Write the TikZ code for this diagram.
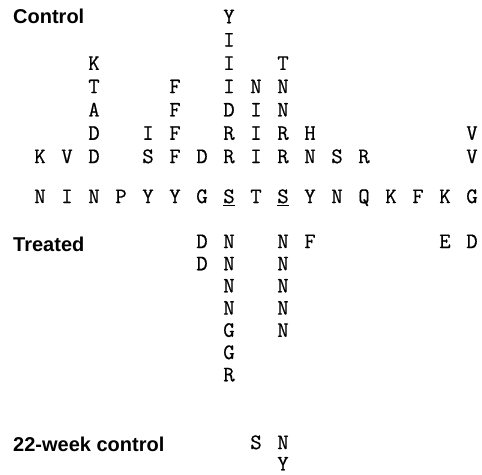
\documentclass[tikz,border=0pt]{standalone}
\usepackage{fontspec}
\setmainfont{Liberation Sans}
\newfontfamily\seqfont{Latin Modern Mono}[FakeBold=0.6]

\tikzset{
  residue/.style={font=\seqfont\fontsize{22}{22}\selectfont,inner sep=0pt,
    text height=0.61em,text depth=0pt},
  grouplabel/.style={font=\bfseries\fontsize{20}{20}\selectfont,inner sep=0pt,
    anchor=west},
}

\begin{document}
\begin{tikzpicture}

        \useasboundingbox (0,0) rectangle (482pt,-474pt);

        % group labels
        \node[grouplabel] (lctl) at (13pt,-16pt)  {Control};
        \node[grouplabel] (ltrt) at (13pt,-244pt) {Treated};
        \node[grouplabel] (l22)  at (13pt,-444pt) {22-week control};

        % reference sequence
        \begin{scope}[shift={(40pt,-200pt)},x=27pt,every node/.style={residue}]
          \node (s0)  at (0,0)  {N};
          \node (s1)  at (1,0)  {I};
          \node (s2)  at (2,0)  {N};
          \node (s3)  at (3,0)  {P};
          \node (s4)  at (4,0)  {Y};
          \node (s5)  at (5,0)  {Y};
          \node (s6)  at (6,0)  {G};
          \node (s7)  at (7,0)  {\underline{S}};
          \node (s8)  at (8,0)  {T};
          \node (s9)  at (9,0)  {\underline{S}};
          \node (s10) at (10,0) {Y};
          \node (s11) at (11,0) {N};
          \node (s12) at (12,0) {Q};
          \node (s13) at (13,0) {K};
          \node (s14) at (14,0) {F};
          \node (s15) at (15,0) {K};
          \node (s16) at (16,0) {G};
        \end{scope}

        % control: columns grow upwards
        \begin{scope}[shift={(40pt,-160pt)},x=27pt,y=23.3pt,every node/.style={residue}]
          \node (c0-1)  at (0,0)  {K};
          \node (c1-1)  at (1,0)  {V};
          \node (c2-1)  at (2,0)  {D};
          \node (c2-2)  at (2,1)  {D};
          \node (c2-3)  at (2,2)  {A};
          \node (c2-4)  at (2,3)  {T};
          \node (c2-5)  at (2,4)  {K};
          \node (c4-1)  at (4,0)  {S};
          \node (c4-2)  at (4,1)  {I};
          \node (c5-1)  at (5,0)  {F};
          \node (c5-2)  at (5,1)  {F};
          \node (c5-3)  at (5,2)  {F};
          \node (c5-4)  at (5,3)  {F};
          \node (c6-1)  at (6,0)  {D};
          \node (c7-1)  at (7,0)  {R};
          \node (c7-2)  at (7,1)  {R};
          \node (c7-3)  at (7,2)  {D};
          \node (c7-4)  at (7,3)  {I};
          \node (c7-5)  at (7,4)  {I};
          \node (c7-6)  at (7,5)  {I};
          \node (c7-7)  at (7,6)  {Y};
          \node (c8-1)  at (8,0)  {I};
          \node (c8-2)  at (8,1)  {I};
          \node (c8-3)  at (8,2)  {I};
          \node (c8-4)  at (8,3)  {N};
          \node (c9-1)  at (9,0)  {R};
          \node (c9-2)  at (9,1)  {R};
          \node (c9-3)  at (9,2)  {N};
          \node (c9-4)  at (9,3)  {N};
          \node (c9-5)  at (9,4)  {T};
          \node (c10-1) at (10,0) {N};
          \node (c10-2) at (10,1) {H};
          \node (c11-1) at (11,0) {S};
          \node (c12-1) at (12,0) {R};
          \node (c16-1) at (16,0) {V};
          \node (c16-2) at (16,1) {V};
        \end{scope}

        % treated: columns grow downwards
        \begin{scope}[shift={(40pt,-245pt)},x=27pt,y=-22.2pt,every node/.style={residue}]
          \node (t6-1)  at (6,0)  {D};
          \node (t6-2)  at (6,1)  {D};
          \node (t7-1)  at (7,0)  {N};
          \node (t7-2)  at (7,1)  {N};
          \node (t7-3)  at (7,2)  {N};
          \node (t7-4)  at (7,3)  {N};
          \node (t7-5)  at (7,4)  {G};
          \node (t7-6)  at (7,5)  {G};
          \node (t7-7)  at (7,6)  {R};
          \node (t9-1)  at (9,0)  {N};
          \node (t9-2)  at (9,1)  {N};
          \node (t9-3)  at (9,2)  {N};
          \node (t9-4)  at (9,3)  {N};
          \node (t9-5)  at (9,4)  {N};
          \node (t10-1) at (10,0) {F};
          \node (t15-1) at (15,0) {E};
          \node (t16-1) at (16,0) {D};
        \end{scope}

        % 22-week control
        \begin{scope}[shift={(40pt,-446pt)},x=27pt,y=-21.4pt,every node/.style={residue}]
          \node (w8-1) at (8,0) {S};
          \node (w9-1) at (9,0) {N};
          \node (w9-2) at (9,1) {Y};
        \end{scope}

      \end{tikzpicture}
\end{document}
